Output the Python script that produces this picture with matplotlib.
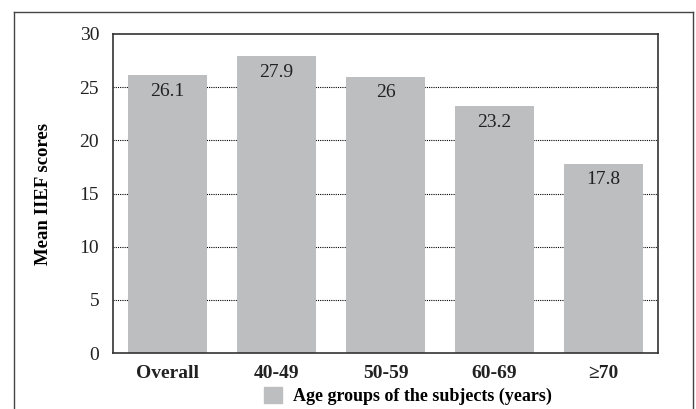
import matplotlib
matplotlib.use('Agg')
import matplotlib.pyplot as plt
from matplotlib.patches import Patch
from matplotlib.lines import Line2D

# mean IIEF scores per age group
groups = ['Overall', '40-49', '50-59', '60-69', '\u226570']
scores = [26.1, 27.9, 26, 23.2, 17.8]
yticks = [0, 5, 10, 15, 20, 25, 30]

plt.rcParams['font.family'] = ['Liberation Serif', 'DejaVu Serif']

W, H = 696, 409
fig = plt.figure(figsize=(W / 100, H / 100), dpi=100)
ax = fig.add_axes([113 / W, 1 - 353 / H, (658 - 113) / W, (353 - 34) / H])

x = range(len(groups))
bars = ax.bar(x, scores, width=0.716, color='#bdbec0', zorder=2)
for b, v in zip(bars, scores):
    ax.text(b.get_x() + b.get_width() / 2, v - 0.7, '%g' % v,
            ha='center', va='top', fontsize=14, color='#222222', zorder=3)

ax.set_xlim(-0.5, len(groups) - 0.5)
ax.set_ylim(0, 30)
ax.set_yticks(yticks)
ax.set_xticks(list(x))
ax.set_xticklabels(groups, fontweight='bold', fontsize=14.5)
ax.tick_params(axis='both', length=0, labelsize=14, colors='#222222')
ax.tick_params(axis='y', pad=10)
ax.tick_params(axis='x', pad=9)
for yv in yticks[1:-1]:
    ax.axhline(yv, color='black', linestyle=(0, (1, 1)), linewidth=0.8, zorder=1)
for s in ax.spines.values():
    s.set_color('#333333')
    s.set_linewidth(1.2)

ax.set_ylabel('Mean IIEF scores', fontweight='bold', fontsize=13.5)
ax.yaxis.set_label_coords((52 - 113) / (658 - 113), 0.5)

# legend below the category labels
fig.legend(handles=[Patch(color='#bdbec0')],
           labels=['Age groups of the subjects (years)'],
           loc='center', bbox_to_anchor=(408 / W, 1 - 396 / H),
           frameon=False, prop={'weight': 'bold', 'size': 13},
           handlelength=1.0, handleheight=1.0, handletextpad=0.6)

# outer frame around the figure
fx0, fx1, fy0 = 13.5 / W, 692.5 / W, 1 - 11.5 / H
frame_kw = dict(color='#444444', linewidth=1.0, transform=fig.transFigure)
fig.add_artist(Line2D([fx0, fx1], [fy0, fy0], **frame_kw))
fig.add_artist(Line2D([fx0, fx0], [fy0, 0], **frame_kw))
fig.add_artist(Line2D([fx1, fx1], [fy0, 0], **frame_kw))

fig.savefig('out.png', dpi=100)
